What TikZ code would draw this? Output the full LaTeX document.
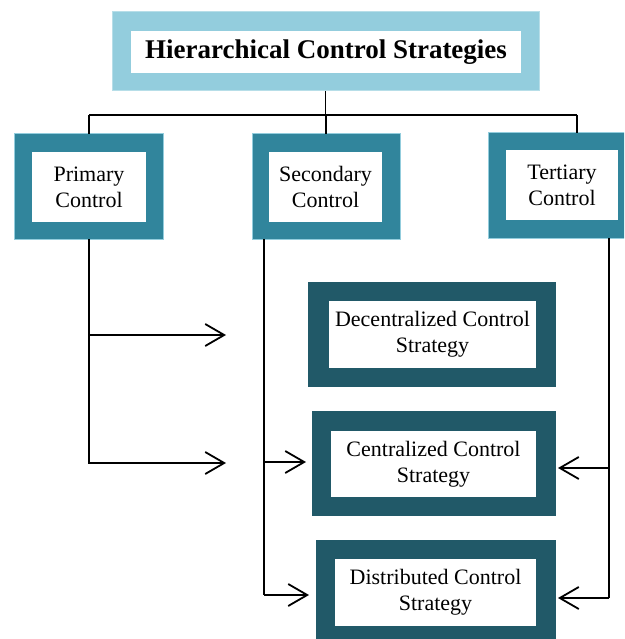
\documentclass[tikz,border=0pt]{standalone}
\usepackage{fontspec}
\setmainfont{Liberation Serif}
\usetikzlibrary{arrows.meta}

\definecolor{paleaqua}{HTML}{93CDDD}
\definecolor{paleedge}{HTML}{B7DEE8}
\definecolor{midteal}{HTML}{31859C}
\definecolor{deepteal}{HTML}{215968}

\tikzset{
  frame/.style={rectangle, inner sep=0pt, outer sep=0pt},
  topframe/.style={frame, fill=paleaqua, draw=paleedge, line width=1pt},
  midframe/.style={frame, fill=midteal, draw=paleaqua, line width=1pt},
  lowframe/.style={frame, fill=deepteal},
  inner/.style={rectangle, fill=white, inner sep=0pt, align=center,
    font=\fontsize{22}{26}\selectfont},
  titletext/.style={inner, font=\fontsize{27}{30}\selectfont\bfseries},
  wire/.style={line width=1.8pt, draw=black},
  arr/.style={wire, -{Straight Barb[length=19pt,width=22pt,line width=1.8pt]}},
}

\begin{document}
\begin{tikzpicture}[x=1pt, y=-1pt]
  \useasboundingbox (0,0) rectangle (624,639);
  \clip (0,0) rectangle (624,639);

  % top level
  \node[topframe, minimum width=427pt, minimum height=79pt] (top) at (325.5,51.5) {};
  \node[titletext, minimum width=390pt, minimum height=42pt] (toplabel) at (326,52) {Hierarchical Control Strategies};

  % control levels
  \node[midframe, minimum width=149pt, minimum height=105pt] (prim) at (88.5,186.5) {};
  \node[inner, minimum width=114pt, minimum height=70pt] (primlabel) at (89,187) {Primary\\Control};

  \node[midframe, minimum width=148pt, minimum height=105pt] (sec) at (326,186.5) {};
  \node[inner, minimum width=113pt, minimum height=70pt] (seclabel) at (325.5,187) {Secondary\\Control};

  \node[midframe, minimum width=148pt, minimum height=105pt] (tert) at (562,185.5) {};
  \node[inner, minimum width=112pt, minimum height=70pt] (tertlabel) at (562,185) {Tertiary\\Control};

  % strategies
  \node[lowframe, minimum width=248pt, minimum height=105pt] (dec) at (432,334.5) {};
  \node[inner, minimum width=207pt, minimum height=67pt] (declabel) at (432.5,334.5) {Decentralized Control\\Strategy};

  \node[lowframe, minimum width=244pt, minimum height=105pt] (cen) at (434,463.5) {};
  \node[inner, minimum width=205pt, minimum height=66pt] (cenlabel) at (433.5,464) {Centralized Control\\Strategy};

  \node[lowframe, minimum width=240pt, minimum height=105pt] (dist) at (436,592.5) {};
  \node[inner, minimum width=201pt, minimum height=67pt] (distlabel) at (435.5,592.5) {Distributed Control\\Strategy};

  % bus below the title
  \coordinate (busL) at (89,115);
  \coordinate (busR) at (577,115);
  \draw[wire] (busL) -- (busR);
  \draw[wire] (top.south) -- (top.south |- busL);
  \draw[wire] (busL) -- (busL |- prim.north);
  \draw[wire] (sec.north |- busL) -- (sec.north);
  \draw[wire] (busR) -- (busR |- tert.north);

  % primary control branches
  \coordinate (pdrop) at (89,239);
  \coordinate (pa1) at (226,335);
  \coordinate (pa2) at (226,463);
  \draw[arr] (pdrop) |- (pa2);
  \draw[arr] (pdrop |- pa1) -- (pa1);

  % secondary control branches
  \coordinate (sdrop) at (264,239);
  \coordinate (sa1) at (264,462);
  \coordinate (sa2) at (264,595);
  \draw[wire] (sdrop) -- (sa2);
  \draw[arr, shorten >=6pt] (sa1) -- (sa1 -| cen.west);
  \draw[arr, shorten >=7pt] (sa2) -- (sa2 -| dist.west);

  % tertiary control branches
  \coordinate (tdrop) at (609,238);
  \coordinate (ta1) at (609,468);
  \coordinate (ta2) at (609,598);
  \draw[wire] (tdrop) -- (ta2);
  \draw[arr, shorten >=2pt] (ta1) -- (ta1 -| cen.east);
  \draw[arr, shorten >=2pt] (ta2) -- (ta2 -| dist.east);
\end{tikzpicture}
\end{document}
